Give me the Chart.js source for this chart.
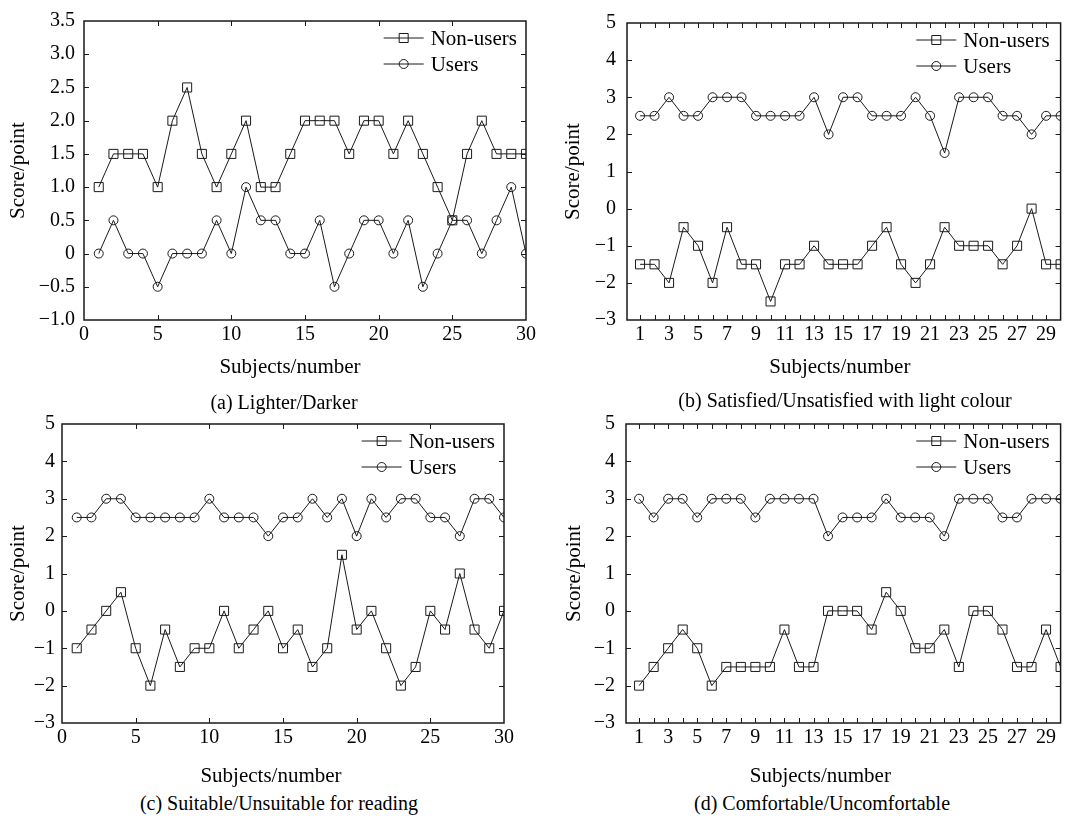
<!DOCTYPE html>
<html><head><meta charset="utf-8">
<script src="https://cdn.jsdelivr.net/npm/chart.js@4.4.1/dist/chart.umd.min.js"></script>
<style>
html,body{margin:0;padding:0;background:#fff;}
body{width:1068px;height:820px;position:relative;overflow:hidden;font-family:"Liberation Serif","Times New Roman",serif;}
canvas{position:absolute;}
.cap{position:absolute;width:600px;text-align:center;font-size:20px;line-height:24px;color:#000;white-space:nowrap;}
</style></head><body>
<canvas id="ca" width="540" height="380" style="left:0px;top:0px"></canvas>
<canvas id="cb" width="512" height="380" style="left:556px;top:0px"></canvas>
<canvas id="cc" width="520" height="389" style="left:0px;top:400px"></canvas>
<canvas id="cd" width="512" height="389" style="left:556px;top:400px"></canvas>
<div class="cap" style="left:-16px;top:390px">(a) Lighter/Darker</div>
<div class="cap" style="left:545px;top:388px">(b) Satisfied/Unsatisfied with light colour</div>
<div class="cap" style="left:-21px;top:791px">(c) Suitable/Unsuitable for reading</div>
<div class="cap" style="left:522px;top:791px">(d) Comfortable/Uncomfortable</div>
<script>
// ---- data ----
const subjects = [1,2,3,4,5,6,7,8,9,10,11,12,13,14,15,16,17,18,19,20,21,22,23,24,25,26,27,28,29,30];
const seriesNames = ['Non-users', 'Users'];

const aNonUsers = [1.0,1.5,1.5,1.5,1.0,2.0,2.5,1.5,1.0,1.5,2.0,1.0,1.0,1.5,2.0,2.0,2.0,1.5,2.0,2.0,1.5,2.0,1.5,1.0,0.5,1.5,2.0,1.5,1.5,1.5];
const aUsers    = [0,0.5,0,0,-0.5,0,0,0,0.5,0,1.0,0.5,0.5,0,0,0.5,-0.5,0,0.5,0.5,0,0.5,-0.5,0,0.5,0.5,0,0.5,1.0,0];

const bNonUsers = [-1.5,-1.5,-2,-0.5,-1,-2,-0.5,-1.5,-1.5,-2.5,-1.5,-1.5,-1,-1.5,-1.5,-1.5,-1,-0.5,-1.5,-2,-1.5,-0.5,-1,-1,-1,-1.5,-1,0,-1.5,-1.5];
const bUsers    = [2.5,2.5,3,2.5,2.5,3,3,3,2.5,2.5,2.5,2.5,3,2,3,3,2.5,2.5,2.5,3,2.5,1.5,3,3,3,2.5,2.5,2,2.5,2.5];

const cNonUsers = [-1,-0.5,0,0.5,-1,-2,-0.5,-1.5,-1,-1,0,-1,-0.5,0,-1,-0.5,-1.5,-1,1.5,-0.5,0,-1,-2,-1.5,0,-0.5,1,-0.5,-1,0];
const cUsers    = [2.5,2.5,3,3,2.5,2.5,2.5,2.5,2.5,3,2.5,2.5,2.5,2,2.5,2.5,3,2.5,3,2,3,2.5,3,3,2.5,2.5,2,3,3,2.5];

const dNonUsers = [-2,-1.5,-1,-0.5,-1,-2,-1.5,-1.5,-1.5,-1.5,-0.5,-1.5,-1.5,0,0,0,-0.5,0.5,0,-1,-1,-0.5,-1.5,0,0,-0.5,-1.5,-1.5,-0.5,-1.5];
const dUsers    = [3,2.5,3,3,2.5,3,3,3,2.5,3,3,3,3,2,2.5,2.5,2.5,3,2.5,2.5,2.5,2,3,3,3,2.5,2.5,3,3,3];

// ---- ticks ----
const xTicksFive = [0,5,10,15,20,25,30];
const xTicksEach = [1,2,3,4,5,6,7,8,9,10,11,12,13,14,15,16,17,18,19,20,21,22,23,24,25,26,27,28,29,30];
const xLabelsOdd = [1,3,5,7,9,11,13,15,17,19,21,23,25,27,29];
const yTicksA = [-1.0,-0.5,0,0.5,1.0,1.5,2.0,2.5,3.0,3.5];
const yTicksInt = [-3,-2,-1,0,1,2,3,4,5];

const FONT = '"Liberation Serif","Times New Roman",serif';
const INK = '#1a1a1a';
const minus = v => (v < 0 ? '\u2212' : '');

function fmtA(v){ return v === 0 ? '0' : minus(v) + Math.abs(v).toFixed(1); }
function fmtInt(v){ return minus(v) + Math.abs(v); }

const framePlugin = {
  id: 'frameTicksLegend',
  afterDraw(chart){
    const {ctx, chartArea:a, scales:{x, y}} = chart;
    ctx.save();
    ctx.strokeStyle = INK; ctx.lineWidth = 1;
    ctx.beginPath();
    x.ticks.forEach(t => {
      const px = Math.round(x.getPixelForValue(t.value)) + 0.5;
      if (px <= a.left + 1 || px >= a.right - 1) return;
      ctx.moveTo(px, a.bottom); ctx.lineTo(px, a.bottom - 5);
      ctx.moveTo(px, a.top); ctx.lineTo(px, a.top + 5);
    });
    y.ticks.forEach(t => {
      const py = Math.round(y.getPixelForValue(t.value)) + 0.5;
      if (py <= a.top + 1 || py >= a.bottom - 1) return;
      ctx.moveTo(a.left, py); ctx.lineTo(a.left + 5, py);
      ctx.moveTo(a.right, py); ctx.lineTo(a.right - 5, py);
    });
    ctx.stroke();
    ctx.lineWidth = 1.5;
    ctx.strokeRect(a.left, a.top, a.right - a.left, a.bottom - a.top);

    // legend inside plot, top right
    const lg = chart.options.plugins.frameTicksLegend;
    ctx.font = '21px ' + FONT;
    ctx.fillStyle = '#000';
    ctx.textBaseline = 'middle';
    ctx.textAlign = 'left';
    const ds = chart.data.datasets;
    const maxW = Math.max(...ds.map(d => ctx.measureText(d.label).width));
    const tx = a.right - lg.rightGap - maxW;
    ds.forEach((d, i) => {
      const ty = a.top + 17 + i * 26;
      const x1 = tx - 7, x0 = x1 - 40, xm = (x0 + x1) / 2;
      ctx.lineWidth = 1;
      ctx.beginPath(); ctx.moveTo(x0, ty); ctx.lineTo(x1, ty); ctx.stroke();
      ctx.beginPath();
      if (d.pointStyle === 'rect') ctx.rect(xm - 4.5, ty - 4.5, 9, 9);
      else ctx.arc(xm, ty, 4.5, 0, Math.PI * 2);
      ctx.stroke();
      ctx.fillText(d.label, tx, ty + 1);
    });
    ctx.restore();
  }
};

function makeDs(label, vals, style){
  return {
    label,
    data: subjects.map((s, i) => ({x: s, y: vals[i]})),
    borderColor: INK, borderWidth: 1,
    pointStyle: style,
    pointRadius: style === 'rect' ? 6.4 : 4.5,
    pointBorderWidth: 1,
    pointBorderColor: INK,
    pointBackgroundColor: 'rgba(0,0,0,0)',
    tension: 0, fill: false
  };
}

function makePanel(id, g){
  const shift = g.titleShift;
  new Chart(document.getElementById(id), {
    type: 'line',
    data: { datasets: [ makeDs(seriesNames[0], g.non, 'rect'), makeDs(seriesNames[1], g.users, 'circle') ] },
    plugins: [framePlugin, {
      id: 'titleShift',
      beforeDraw(chart){
        const s = chart.scales.x;
        if (!s._shiftPatched){
          const orig = s.drawTitle.bind(s);
          s.drawTitle = function(){ const c = this.ctx; c.save(); c.translate(shift, 0); orig(); c.restore(); };
          s._shiftPatched = true;
        }
      }
    }],
    options: {
      responsive: false, animation: false,
      layout: { padding: g.pad },
      plugins: { legend: {display:false}, tooltip: {enabled:false}, frameTicksLegend: {rightGap: g.legendGap} },
      scales: {
        x: {
          type: 'linear', min: g.xMin, max: 30,
          afterBuildTicks: s => { s.ticks = g.xTicks.map(v => ({value: v})); },
          afterFit: s => { s.height = g.xH; },
          grid: {display:false, drawTicks:false}, border: {display:false},
          ticks: {
            autoSkip: false, maxRotation: 0, padding: 3, color: '#000',
            font: {family: FONT, size: 20},
            callback: v => g.xLabel(v)
          },
          title: { display: true, text: 'Subjects/number', color: '#000', padding: 0, font: {family: FONT, size: 21} }
        },
        y: {
          type: 'linear', min: g.yTicks[0], max: g.yTicks[g.yTicks.length - 1],
          afterBuildTicks: s => { s.ticks = g.yTicks.map(v => ({value: v})); },
          afterFit: s => { s.width = g.yW; },
          grid: {display:false, drawTicks:false}, border: {display:false},
          ticks: {
            autoSkip: false, padding: g.yPad, color: '#000',
            font: {family: FONT, size: 20},
            callback: v => g.yFmt(v)
          },
          title: { display: true, text: 'Score/point', color: '#000', padding: 0, font: {family: FONT, size: 21} }
        }
      }
    }
  });
}

function drawAll(){
  makePanel('ca', { non: aNonUsers, users: aUsers, pad: {left:6, right:14, top:19, bottom:0}, yW: 78, xH: 60,
    xMin: 0, xTicks: xTicksFive, xLabel: v => String(v), yTicks: yTicksA, yFmt: fmtA, yPad: 9, titleShift: -15, legendGap: 9 });
  makePanel('cb', { non: bNonUsers, users: bUsers, pad: {left:5, right:2, top:20, bottom:0}, yW: 66, xH: 60,
    xMin: 0.1, xTicks: xTicksEach, xLabel: v => xLabelsOdd.includes(v) ? String(v) : '', yTicks: yTicksInt, yFmt: fmtInt, yPad: 11, titleShift: -4, legendGap: 11 });
  makePanel('cc', { non: cNonUsers, users: cUsers, pad: {left:6, right:16, top:24, bottom:0}, yW: 56, xH: 66,
    xMin: 0, xTicks: xTicksFive, xLabel: v => String(v), yTicks: yTicksInt, yFmt: fmtInt, yPad: 7, titleShift: -12, legendGap: 9 });
  makePanel('cd', { non: dNonUsers, users: dUsers, pad: {left:6, right:2, top:24, bottom:0}, yW: 64, xH: 66,
    xMin: 0.1, xTicks: xTicksEach, xLabel: v => xLabelsOdd.includes(v) ? String(v) : '', yTicks: yTicksInt, yFmt: fmtInt, yPad: 11, titleShift: -23, legendGap: 11 });
}

let started = false;
function start(){ if (started) return; started = true; drawAll(); }
if (document.fonts && document.fonts.load) {
  Promise.all([document.fonts.load('20px "Liberation Serif"'), document.fonts.load('21px "Liberation Serif"')])
    .then(start, start);
  setTimeout(start, 1500);
} else {
  start();
}
</script>
</body></html>
